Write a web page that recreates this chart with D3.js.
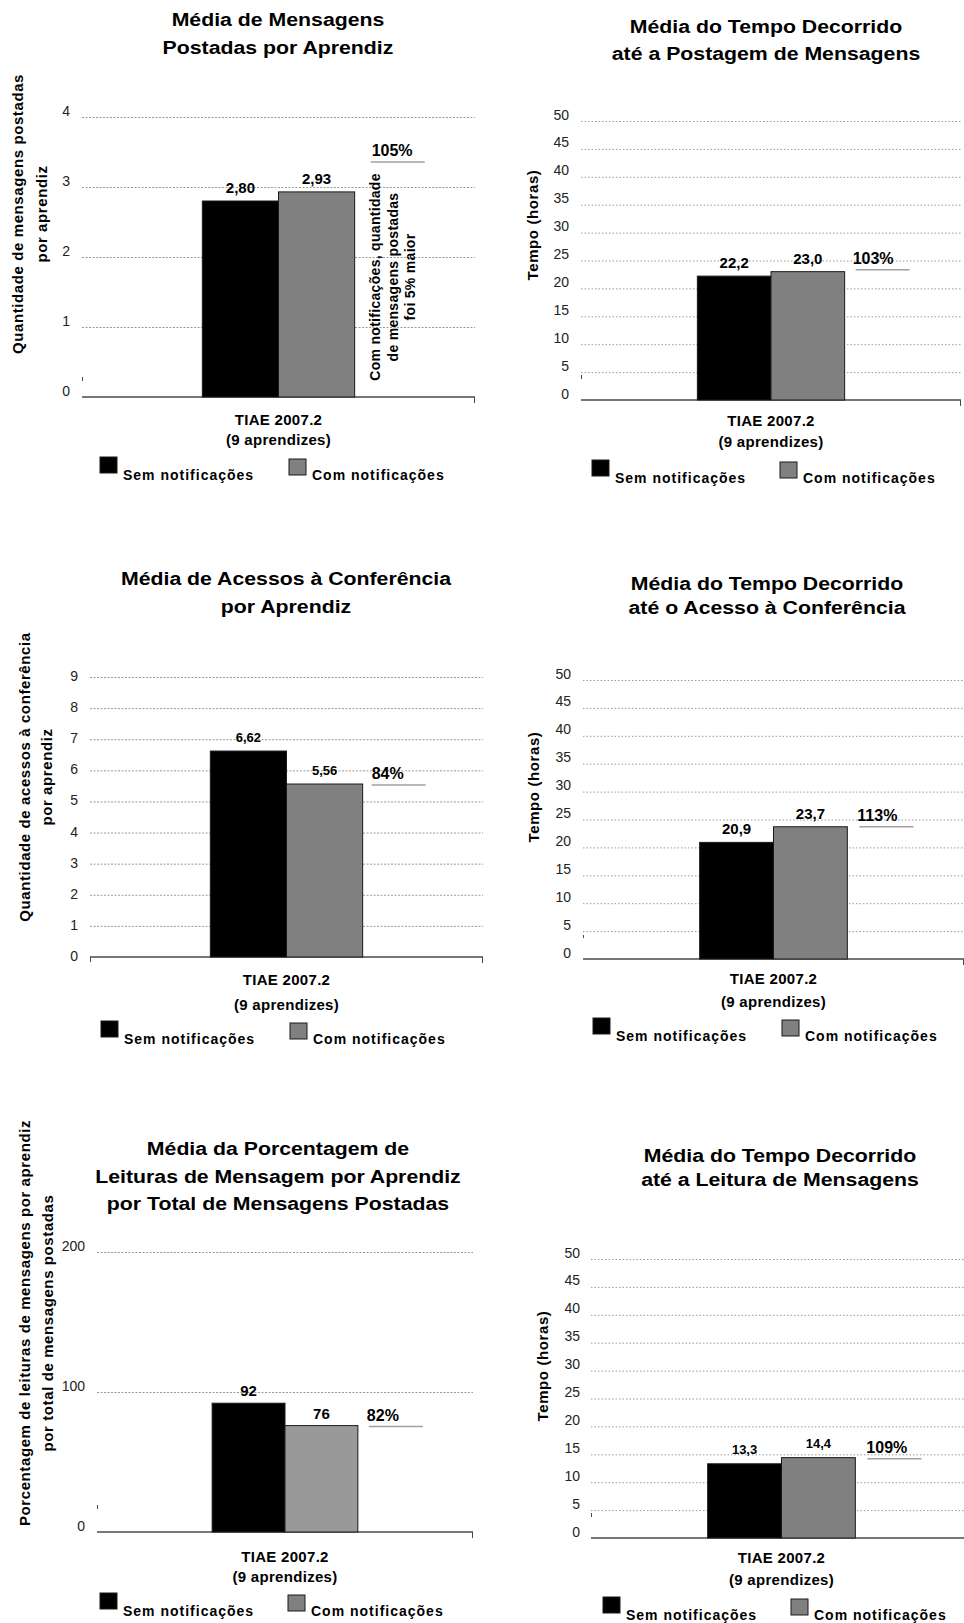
<!DOCTYPE html>
<html>
<head>
<meta charset="utf-8">
<script src="https://cdn.jsdelivr.net/npm/d3@7"></script>
<style>
  html, body { margin: 0; padding: 0; background: #fff; }
  svg { display: block; font-family: "Liberation Sans", Arial, Helvetica, sans-serif; }
</style>
</head>
<body>
<svg id="chart" width="964" height="1623"></svg>
<script>
// ---- Data -------------------------------------------------------------
// Two series compared in every panel
const seriesNames = ["Sem notificações", "Com notificações"];
// Single category on the x axis (two-line label)
const groupLabel = ["TIAE 2007.2", "(9 aprendizes)"];

// Means per panel, in series order [sem, com]
const mensagensPostadas   = [2.80, 2.93];
const tempoPostagem       = [22.2, 23.0];
const acessosConferencia  = [6.62, 5.56];
const tempoAcesso         = [20.9, 23.7];
const leiturasPorcentagem = [92, 76];
const tempoLeitura        = [13.3, 14.4];

// "Com" relative to "Sem", as printed beside each pair
const razoes = ["105%", "103%", "84%", "113%", "82%", "109%"];

// Y-axis tick values
const ticksMensagens = [0, 1, 2, 3, 4];
const ticksHoras     = [0, 5, 10, 15, 20, 25, 30, 35, 40, 45, 50];
const ticksAcessos   = [0, 1, 2, 3, 4, 5, 6, 7, 8, 9];
const ticksLeituras  = [0, 100, 200];

// Titles
const titulos = [
  ["Média de Mensagens", "Postadas por Aprendiz"],
  ["Média do Tempo Decorrido", "até a Postagem de Mensagens"],
  ["Média de Acessos à Conferência", "por Aprendiz"],
  ["Média do Tempo Decorrido", "até o Acesso à Conferência"],
  ["Média da Porcentagem de", "Leituras de Mensagem por Aprendiz", "por Total de Mensagens Postadas"],
  ["Média do Tempo Decorrido", "até a Leitura de Mensagens"]
];
const titulosEixoY = [
  ["Quantidade de mensagens postadas", "por aprendiz"],
  ["Tempo (horas)"],
  ["Quantidade de acessos à conferência", "por aprendiz"],
  ["Tempo (horas)"],
  ["Porcentagem de  leituras de mensagens por aprendiz", "por total de mensagens postadas"],
  ["Tempo (horas)"]
];
const notaMensagens = ["Com notificações, quantidade", "de mensagens postadas", "foi 5% maior"];

// ---- Layout -----------------------------------------------------------
const panels = [
  { values: mensagensPostadas, ticks: ticksMensagens, ratio: razoes[0], title: titulos[0], yTitle: titulosEixoY[0],
    decimals: 2, left: 82, right: 475, base: 397, top: 117, labelRight: 70, tickDy: -2, dash: "2,1.5",
    titleX: 278, titleY: [26, 54], yTitleX: [18, 42], yTitleCY: 214, valSize: 15, valGap: 8, grey: "#808080",
    ratioLift: -30, ratioDx: 17, ulDx: 16, xl: [28, 48], legend: [100, 457], legendGap: 189,
    leftTick: [-20, -16], note: true },
  { values: tempoPostagem, ticks: ticksHoras, ratio: razoes[1], title: titulos[1], yTitle: titulosEixoY[1],
    decimals: 1, left: 581, right: 961, base: 400, top: 121, labelRight: 569, tickDy: -2, dash: "1.5,2",
    titleX: 766, titleY: [33, 60], yTitleX: [533], yTitleCY: 225, valSize: 15, valGap: 8, grey: "#808080",
    ratioLift: -2, ratioDx: 8, ulDx: 11, xl: [26, 47], legend: [592, 460], legendGap: 188,
    leftTick: [-25, -21] },
  { values: acessosConferencia, ticks: ticksAcessos, ratio: razoes[2], title: titulos[2], yTitle: titulosEixoY[2],
    decimals: 2, left: 90, right: 483, base: 957, top: 677, labelRight: 78, tickDy: 3.5, dash: "2,1.5",
    titleX: 286, titleY: [585, 613], yTitleX: [25, 47], yTitleCY: 777, valSize: 13, valGap: 9, grey: "#808080",
    ratioLift: 1, ratioDx: 9, ulDx: 9, xl: [28, 53], legend: [101, 1021], legendGap: 189,
    leftTick: [0, 5] },
  { values: tempoAcesso, ticks: ticksHoras, ratio: razoes[3], title: titulos[3], yTitle: titulosEixoY[3],
    decimals: 1, left: 583, right: 964, base: 959, top: 680, labelRight: 571, tickDy: -2, dash: "1.5,2",
    titleX: 767, titleY: [590, 614], yTitleX: [534], yTitleCY: 787, valSize: 15, valGap: 8, grey: "#808080",
    ratioLift: 0, ratioDx: 10, ulDx: 12, xl: [25, 48], legend: [593, 1018], legendGap: 189,
    leftTick: [-24, -21] },
  { values: leiturasPorcentagem, ticks: ticksLeituras, ratio: razoes[4], title: titulos[4], yTitle: titulosEixoY[4],
    decimals: 0, left: 97, right: 473, base: 1532, top: 1252, labelRight: 85, tickDy: -2, dash: "2,1.5",
    titleX: 278, titleY: [1155, 1183, 1210], yTitleX: [25, 48], yTitleCY: 1323, valSize: 15, valGap: 7, grey: "#999999",
    ratioLift: 1, ratioDx: 9, ulDx: 11, xl: [30, 50], legend: [100, 1593], legendGap: 188,
    leftTick: [-27, -23] },
  { values: tempoLeitura, ticks: ticksHoras, ratio: razoes[5], title: titulos[5], yTitle: titulosEixoY[5],
    decimals: 1, left: 591, right: 972, base: 1538, top: 1259, labelRight: 580, tickDy: -2, dash: "1.5,2",
    titleX: 780, titleY: [1162, 1186], yTitleX: [543], yTitleCY: 1366, valSize: 13, valGap: 10, grey: "#808080",
    ratioLift: 1, ratioDx: 11, ulDx: 12, xl: [25, 47], legend: [603, 1597], legendGap: 188,
    leftTick: [-25, -21] }
];

// ---- Drawing ----------------------------------------------------------
const FONT = '"Liberation Sans", Arial, Helvetica, sans-serif';
const svg = d3.select("#chart");
svg.append("rect").attr("width", 964).attr("height", 1623).attr("fill", "#fff");

// Text helper; sx widens the glyphs horizontally around the anchor point
function label(g, x, y, str, o = {}) {
  const sx = o.sx || 1;
  return g.append("text")
    .attr("transform", `translate(${x},${y}) scale(${sx},1)`)
    .attr("text-anchor", o.anchor || "start")
    .attr("font-size", o.size || 14)
    .attr("font-weight", o.weight || "bold")
    .attr("letter-spacing", o.ls || 0)
    .attr("fill", o.fill || "#000")
    .text(str);
}

function rotatedLines(g, centersX, cy, lines, o) {
  // Vertical text reading bottom-to-top; centersX are the visual centres of each column
  lines.forEach((line, i) => {
    const bx = centersX[i] + o.size * 0.36;
    g.append("text")
      .attr("transform", `translate(${bx},${cy}) rotate(-90)`)
      .attr("text-anchor", "middle")
      .attr("font-size", o.size)
      .attr("font-weight", "bold")
      .attr("letter-spacing", o.ls || 0)
      .attr("fill", "#000")
      .text(line);
  });
}

function drawPanel(p) {
  const g = svg.append("g");
  const groupKey = groupLabel.join(" ");

  const y = d3.scaleLinear().domain([0, d3.max(p.ticks)]).range([p.base, p.top]);
  const xg = d3.scaleBand().domain([groupKey]).range([p.left, p.right])
    .paddingInner(0).paddingOuter(0.79);
  const xs = d3.scaleBand().domain(seriesNames).range([0, xg.bandwidth()]);

  // Title
  p.title.forEach((line, i) => label(g, p.titleX, p.titleY[i], line,
    { anchor: "middle", size: 19, sx: 1.12 }));

  // Dashed gridlines with tick labels
  const axis = d3.axisLeft(y)
    .tickValues(p.ticks)
    .tickSize(-(p.right - p.left))
    .tickPadding(p.left - p.labelRight)
    .tickFormat(d3.format("d"));
  const ag = g.append("g")
    .attr("transform", `translate(${p.left},0)`)
    .call(axis)
    .attr("font-family", FONT)
    .attr("font-size", 14);
  ag.select(".domain").remove();
  ag.selectAll(".tick line")
    .attr("stroke", "#9a9a9a")
    .attr("stroke-width", 1)
    .attr("stroke-dasharray", p.dash)
    .filter(d => d === 0).remove();
  ag.selectAll(".tick text").attr("fill", "#222").attr("dy", p.tickDy);

  // Category axis line and its small end ticks
  g.append("line")
    .attr("x1", p.left).attr("x2", p.right)
    .attr("y1", y(0)).attr("y2", y(0))
    .attr("stroke", "#4a4a4a").attr("stroke-width", 1.5);
  g.append("line")
    .attr("x1", p.right - 0.5).attr("x2", p.right - 0.5)
    .attr("y1", y(0)).attr("y2", y(0) + 6)
    .attr("stroke", "#4a4a4a").attr("stroke-width", 1);
  g.append("line")
    .attr("x1", p.left + 0.5).attr("x2", p.left + 0.5)
    .attr("y1", y(0) + p.leftTick[0]).attr("y2", y(0) + p.leftTick[1])
    .attr("stroke", "#4a4a4a").attr("stroke-width", 1);

  // Bars
  const bg = g.append("g").attr("transform", `translate(${xg(groupKey)},0)`);
  bg.selectAll("rect").data(p.values).join("rect")
    .attr("x", (d, i) => xs(seriesNames[i]))
    .attr("width", xs.bandwidth())
    .attr("y", d => y(d))
    .attr("height", d => y(0) - y(d))
    .attr("fill", (d, i) => i === 0 ? "#000" : p.grey)
    .attr("stroke", "#1a1a1a")
    .attr("stroke-width", 1);

  // Value labels
  const fmt = d => d.toFixed(p.decimals).replace(".", ",");
  bg.selectAll("text.valor").data(p.values).join("text")
    .attr("class", "valor")
    .attr("x", (d, i) => xs(seriesNames[i]) + xs.bandwidth() / 2)
    .attr("y", d => y(d) - p.valGap)
    .attr("text-anchor", "middle")
    .attr("font-size", p.valSize)
    .attr("font-weight", "bold")
    .attr("fill", "#000")
    .text(fmt);

  // Ratio with underline
  const greyRight = xg(groupKey) + xs(seriesNames[1]) + xs.bandwidth();
  const uy = y(p.values[1]) + p.ratioLift;
  g.append("line")
    .attr("x1", greyRight + p.ulDx).attr("x2", greyRight + p.ulDx + 54)
    .attr("y1", uy).attr("y2", uy)
    .attr("stroke", "#a0a0a0").attr("stroke-width", 1.5);
  label(g, greyRight + p.ratioDx, uy - 6, p.ratio, { size: 16 });

  // Category label under the axis
  const cx = xg(groupKey) + xg.bandwidth() / 2;
  groupLabel.forEach((line, i) => label(g, cx, y(0) + p.xl[i], line,
    { anchor: "middle", size: 15, ls: 0.3 }));

  // Legend
  const [lx, ly] = p.legend;
  const colors = ["#000", "#808080"];
  seriesNames.forEach((name, i) => {
    const sx = lx + i * p.legendGap;
    const sy = ly + i * 2;
    g.append("rect")
      .attr("x", sx).attr("y", sy).attr("width", 17).attr("height", 16)
      .attr("fill", colors[i]).attr("stroke", "#1a1a1a").attr("stroke-width", 1);
    label(g, sx + 23, ly + 23, name, { size: 14, ls: 1 });
  });

  // Y-axis title
  rotatedLines(g, p.yTitleX, p.yTitleCY, p.yTitle, { size: 15, ls: 0.6 });

  // Vertical note beside the first pair
  if (p.note) {
    rotatedLines(g, [375, 393, 410], 277, notaMensagens, { size: 14, ls: 0.3 });
  }
}

panels.forEach(drawPanel);
</script>
</body>
</html>
